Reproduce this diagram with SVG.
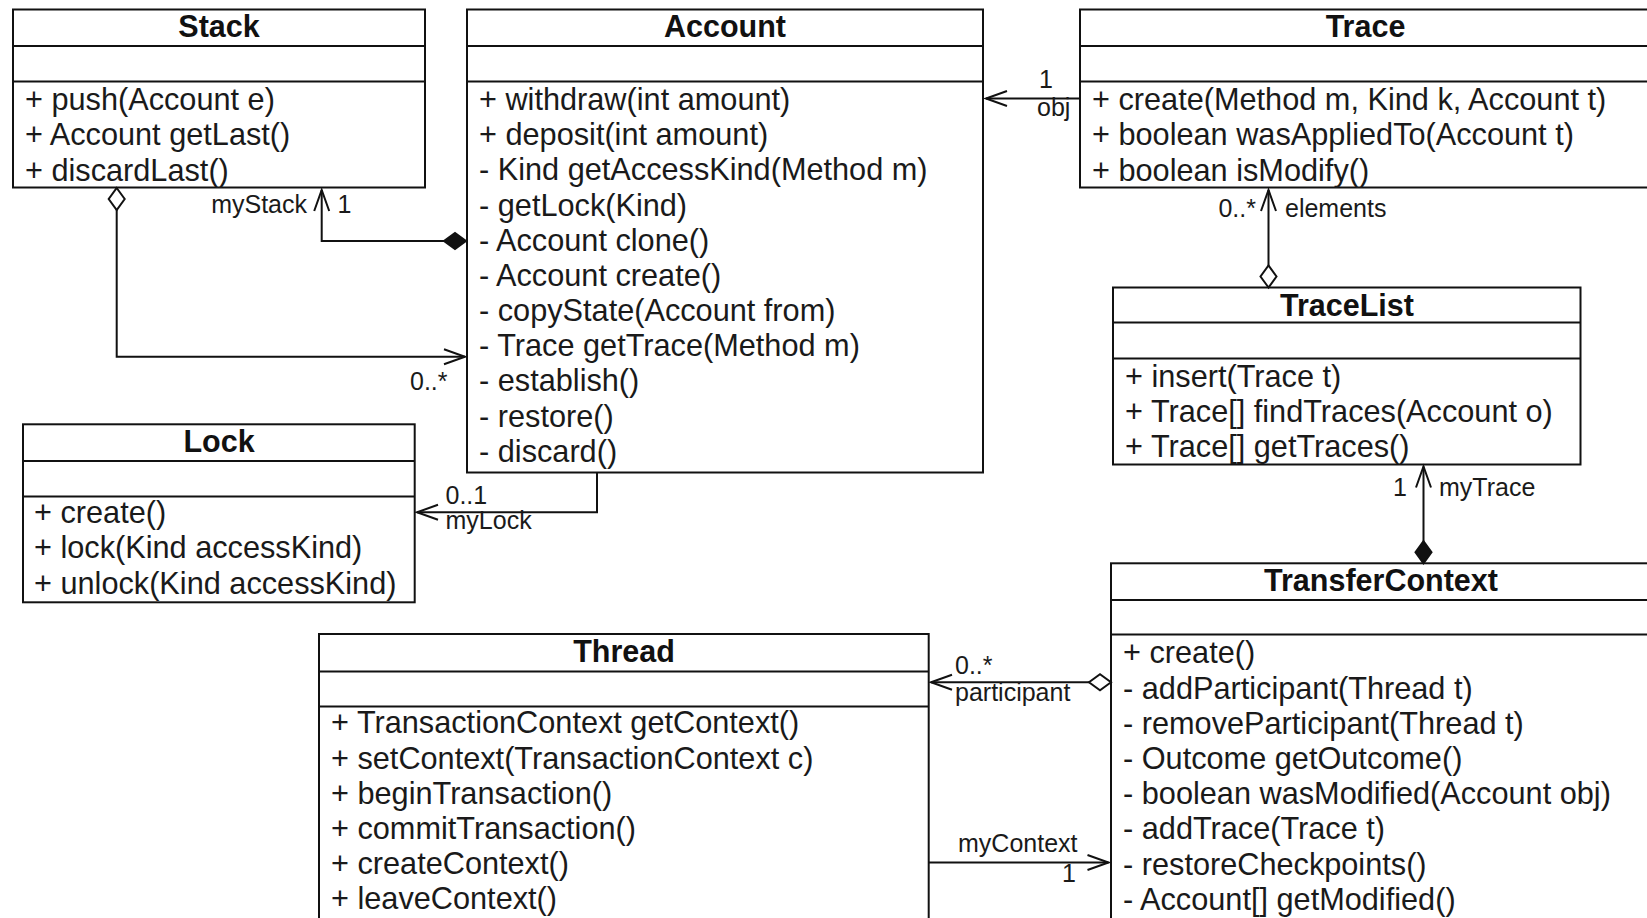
<svg xmlns="http://www.w3.org/2000/svg" width="1647" height="918" viewBox="0 0 1647 918">
  <style>
    .box { fill: #fff; stroke: #111; stroke-width: 2; }
    .sep { stroke: #111; stroke-width: 2; }
    .title { font-family: "Liberation Sans", Arial, sans-serif; font-weight: bold; font-size: 30.5px; fill: #111; text-anchor: middle; }
    .m { font-family: "Liberation Sans", Arial, sans-serif; font-size: 30.7px; fill: #1a1a1a; }
    .lbl { font-family: "Liberation Sans", Arial, sans-serif; font-size: 25px; fill: #1a1a1a; }
    .end { text-anchor: end; }
    .conn { fill: none; stroke: #111; stroke-width: 2; }
  </style>
  <defs>
    <!-- open navigation arrow, tip at the path end -->
    <marker id="arrow" markerUnits="userSpaceOnUse" markerWidth="30" markerHeight="24" refX="24" refY="12" orient="auto" overflow="visible">
      <path d="M3,4.5 L24,12 L3,19.5" fill="none" stroke="#111" stroke-width="2"/>
    </marker>
    <!-- aggregation (hollow) and composition (filled) diamonds, drawn from the path start -->
    <marker id="agg" markerUnits="userSpaceOnUse" markerWidth="24" markerHeight="18" refX="0" refY="8" orient="auto" overflow="visible">
      <path d="M0,8 L11,0 L22,8 L11,16 Z" fill="#fff" stroke="#111" stroke-width="2"/>
    </marker>
    <marker id="comp" markerUnits="userSpaceOnUse" markerWidth="24" markerHeight="18" refX="0" refY="8" orient="auto" overflow="visible">
      <path d="M0,8 L11,0 L22,8 L11,16 Z" fill="#111" stroke="#111" stroke-width="2"/>
    </marker>
  </defs>

  <rect x="0" y="0" width="1647" height="918" fill="#fff"/>

  <!-- Stack -->
  <g id="stack">
    <rect class="box" x="13" y="9.5" width="412" height="178"/>
    <line class="sep" x1="13" y1="46" x2="425" y2="46"/>
    <line class="sep" x1="13" y1="81.5" x2="425" y2="81.5"/>
    <text class="title" x="219" y="37">Stack</text>
    <text class="m" x="25" y="110">+ push(Account e)</text>
    <text class="m" x="25" y="145.3">+ Account getLast()</text>
    <text class="m" x="25" y="180.5">+ discardLast()</text>
  </g>

  <!-- Account -->
  <g id="account">
    <rect class="box" x="467" y="9.5" width="516" height="463"/>
    <line class="sep" x1="467" y1="46" x2="983" y2="46"/>
    <line class="sep" x1="467" y1="81.5" x2="983" y2="81.5"/>
    <text class="title" x="725" y="37">Account</text>
    <text class="m" x="479" y="110">+ withdraw(int amount)</text>
    <text class="m" x="479" y="145.2">+ deposit(int amount)</text>
    <text class="m" x="479" y="180.3">- Kind getAccessKind(Method m)</text>
    <text class="m" x="479" y="215.5">- getLock(Kind)</text>
    <text class="m" x="479" y="250.7">- Account clone()</text>
    <text class="m" x="479" y="285.9">- Account create()</text>
    <text class="m" x="479" y="321">- copyState(Account from)</text>
    <text class="m" x="479" y="356.2">- Trace getTrace(Method m)</text>
    <text class="m" x="479" y="391.4">- establish()</text>
    <text class="m" x="479" y="426.5">- restore()</text>
    <text class="m" x="479" y="461.7">- discard()</text>
  </g>

  <!-- Trace -->
  <g id="trace">
    <rect class="box" x="1080" y="9.5" width="571" height="178"/>
    <line class="sep" x1="1080" y1="46" x2="1651" y2="46"/>
    <line class="sep" x1="1080" y1="81.5" x2="1651" y2="81.5"/>
    <text class="title" x="1365.5" y="37">Trace</text>
    <text class="m" x="1092" y="110">+ create(Method m, Kind k, Account t)</text>
    <text class="m" x="1092" y="145.3">+ boolean wasAppliedTo(Account t)</text>
    <text class="m" x="1092" y="180.5">+ boolean isModify()</text>
  </g>

  <!-- TraceList -->
  <g id="tracelist">
    <rect class="box" x="1113" y="287.5" width="467.5" height="177"/>
    <line class="sep" x1="1113" y1="322.5" x2="1580.5" y2="322.5"/>
    <line class="sep" x1="1113" y1="358.5" x2="1580.5" y2="358.5"/>
    <text class="title" x="1347" y="315.5">TraceList</text>
    <text class="m" x="1125" y="387">+ insert(Trace t)</text>
    <text class="m" x="1125" y="422">+ Trace[] findTraces(Account o)</text>
    <text class="m" x="1125" y="457">+ Trace[] getTraces()</text>
  </g>

  <!-- Lock -->
  <g id="lock">
    <rect class="box" x="23" y="424.3" width="391.7" height="178"/>
    <line class="sep" x1="23" y1="461" x2="414.7" y2="461"/>
    <line class="sep" x1="23" y1="496.5" x2="414.7" y2="496.5"/>
    <text class="title" x="219" y="452">Lock</text>
    <text class="m" x="34" y="522.5">+ create()</text>
    <text class="m" x="34" y="558">+ lock(Kind accessKind)</text>
    <text class="m" x="34" y="593.5">+ unlock(Kind accessKind)</text>
  </g>

  <!-- Thread -->
  <g id="thread">
    <rect class="box" x="319" y="634" width="609.7" height="300"/>
    <line class="sep" x1="319" y1="671.5" x2="928.7" y2="671.5"/>
    <line class="sep" x1="319" y1="706.5" x2="928.7" y2="706.5"/>
    <text class="title" x="624" y="662">Thread</text>
    <text class="m" x="331" y="733.3">+ TransactionContext getContext()</text>
    <text class="m" x="331" y="768.5">+ setContext(TransactionContext c)</text>
    <text class="m" x="331" y="803.7">+ beginTransaction()</text>
    <text class="m" x="331" y="838.9">+ commitTransaction()</text>
    <text class="m" x="331" y="874.1">+ createContext()</text>
    <text class="m" x="331" y="909.3">+ leaveContext()</text>
  </g>

  <!-- TransferContext -->
  <g id="transfercontext">
    <rect class="box" x="1111" y="563.3" width="540" height="380"/>
    <line class="sep" x1="1111" y1="600" x2="1651" y2="600"/>
    <line class="sep" x1="1111" y1="634.5" x2="1651" y2="634.5"/>
    <text class="title" x="1381" y="591">TransferContext</text>
    <text class="m" x="1123" y="663.3">+ create()</text>
    <text class="m" x="1123" y="698.5">- addParticipant(Thread t)</text>
    <text class="m" x="1123" y="733.7">- removeParticipant(Thread t)</text>
    <text class="m" x="1123" y="768.9">- Outcome getOutcome()</text>
    <text class="m" x="1123" y="804.1">- boolean wasModified(Account obj)</text>
    <text class="m" x="1123" y="839.3">- addTrace(Trace t)</text>
    <text class="m" x="1123" y="874.5">- restoreCheckpoints()</text>
    <text class="m" x="1123" y="909.7">- Account[] getModified()</text>
  </g>

  <!-- associations -->
  <g id="connectors">
    <path class="conn" d="M116.7,188 V356.7 H465" marker-start="url(#agg)" marker-end="url(#arrow)"/>
    <text class="lbl" x="410" y="390">0..*</text>

    <path class="conn" d="M466,241 H321.7 V190" marker-start="url(#comp)" marker-end="url(#arrow)"/>
    <text class="lbl end" x="307" y="213">myStack</text>
    <text class="lbl" x="337.5" y="213">1</text>

    <path class="conn" d="M1080,98.5 H986"  marker-end="url(#arrow)"/>
    <text class="lbl" x="1039" y="87.5">1</text>
    <text class="lbl" x="1037" y="116">obj</text>

    <path class="conn" d="M1268.5,287.5 V190" marker-start="url(#agg)" marker-end="url(#arrow)"/>
    <text class="lbl end" x="1256" y="216.5">0..*</text>
    <text class="lbl" x="1285" y="216.5">elements</text>

    <path class="conn" d="M1423.5,563.3 V466.5" marker-start="url(#comp)" marker-end="url(#arrow)"/>
    <text class="lbl end" x="1407" y="496">1</text>
    <text class="lbl" x="1439" y="496">myTrace</text>

    <path class="conn" d="M597,472.5 V512.3 H417" marker-end="url(#arrow)"/>
    <text class="lbl" x="445.5" y="503.5">0..1</text>
    <text class="lbl" x="445.5" y="529">myLock</text>

    <path class="conn" d="M1111,682.3 H931" marker-start="url(#agg)" marker-end="url(#arrow)"/>
    <text class="lbl" x="955" y="673.5">0..*</text>
    <text class="lbl" x="955" y="701">participant</text>

    <path class="conn" d="M928.7,862.5 H1108.5" marker-end="url(#arrow)"/>
    <text class="lbl" x="958" y="851.5">myContext</text>
    <text class="lbl end" x="1076" y="881.7">1</text>
  </g>
</svg>
